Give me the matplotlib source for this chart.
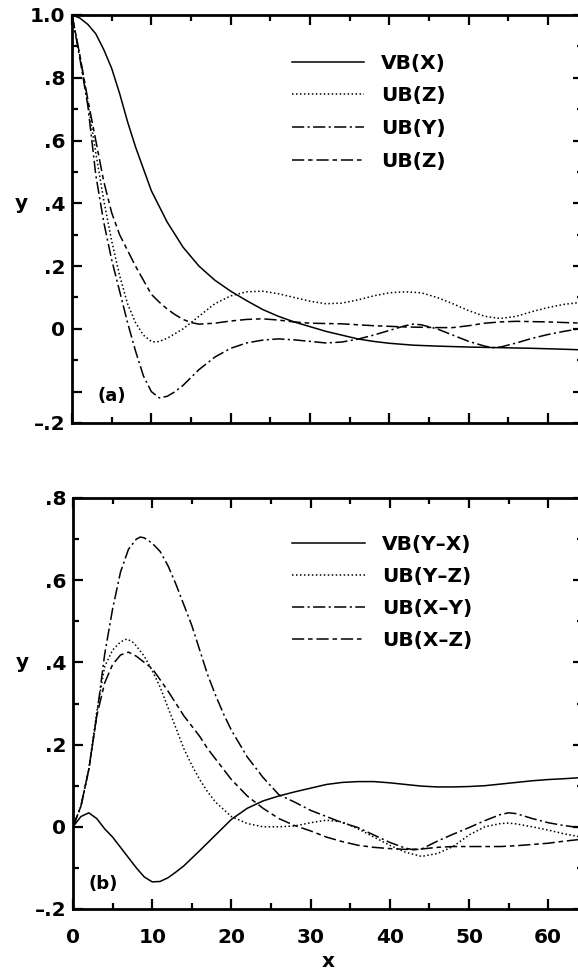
import numpy as np
import matplotlib
matplotlib.use("Agg")
import matplotlib.pyplot as plt
from matplotlib.ticker import MultipleLocator

plt.rcParams["font.family"] = ["DejaVu Sans"]
plt.rcParams["font.weight"] = "bold"

# ---------- panel (a) ----------
xa_vbx = [0, 1, 2, 3, 4, 5, 6, 7, 8, 9, 10, 11, 12, 13, 14, 15, 16, 18, 20, 22, 24, 26,
          28, 30, 32, 34, 36, 38, 40, 43, 46, 50, 54, 58, 62, 64.4]
ya_vbx = [1.0, 0.99, 0.97, 0.94, 0.89, 0.83, 0.75, 0.66, 0.58, 0.51, 0.44, 0.39, 0.34, 0.30,
          0.26, 0.23, 0.20, 0.155, 0.12, 0.09, 0.062, 0.04, 0.022, 0.007, -0.008, -0.02,
          -0.032, -0.04, -0.046, -0.052, -0.055, -0.058, -0.06, -0.062, -0.065, -0.067]

xa_ubz = [0, 1, 2, 3, 4, 5, 6, 7, 8, 9, 10, 10.5, 11, 12, 13, 14, 16, 18, 20, 22, 24, 26,
          28, 30, 32, 34, 36, 38, 40, 42, 44, 46, 48, 50, 52, 54, 56, 58, 60, 62, 64.4]
ya_ubz = [1.0, 0.87, 0.72, 0.56, 0.41, 0.28, 0.17, 0.08, 0.02, -0.02, -0.04, -0.042, -0.04,
          -0.03, -0.015, 0.0, 0.04, 0.08, 0.105, 0.118, 0.12, 0.112, 0.10, 0.088, 0.08, 0.082,
          0.092, 0.105, 0.115, 0.118, 0.115, 0.10, 0.08, 0.058, 0.04, 0.033, 0.04, 0.055,
          0.068, 0.078, 0.085]

xa_uby = [0, 1, 2, 3, 4, 5, 6, 7, 8, 9, 10, 11, 12, 13, 14, 16, 18, 20, 22, 24, 26, 28, 30,
          32, 34, 36, 38, 40, 42, 43, 44, 46, 48, 50, 52, 53, 54, 56, 58, 60, 62, 64.4]
ya_uby = [1.0, 0.86, 0.71, 0.49, 0.34, 0.22, 0.12, 0.02, -0.07, -0.15, -0.2, -0.22, -0.215,
          -0.2, -0.18, -0.13, -0.09, -0.062, -0.045, -0.036, -0.032, -0.035, -0.04, -0.045,
          -0.042, -0.033, -0.02, -0.005, 0.01, 0.015, 0.013, 0.0, -0.02, -0.04, -0.055, -0.06,
          -0.058, -0.045, -0.03, -0.018, -0.008, 0.002]

xa_ubz2 = [0, 1, 2, 3, 4, 5, 6, 7, 8, 9, 10, 11, 12, 13, 14, 15, 16, 18, 20, 22, 24, 26, 28,
           30, 34, 38, 42, 46, 48, 50, 52, 54, 56, 60, 64.4]
ya_ubz2 = [1.0, 0.87, 0.73, 0.60, 0.47, 0.37, 0.30, 0.25, 0.20, 0.155, 0.11, 0.085, 0.063,
           0.045, 0.03, 0.02, 0.015, 0.018, 0.025, 0.03, 0.032, 0.028, 0.022, 0.018, 0.016,
           0.01, 0.006, 0.004, 0.004, 0.01, 0.018, 0.022, 0.024, 0.022, 0.018]

labels_a = ["VB(X)", "UB(Z)", "UB(Y)", "UB(Z)"]

# ---------- panel (b) ----------
xb_vb = [0, 1, 2, 3, 4, 5, 6, 7, 8, 9, 10, 11, 12, 13, 14, 16, 18, 20, 22, 24, 26, 28, 30,
         32, 34, 36, 38, 40, 42, 44, 46, 48, 50, 52, 54, 56, 58, 60, 62, 64.4]
yb_vb = [0.0, 0.025, 0.034, 0.02, -0.005, -0.025, -0.05, -0.075, -0.1, -0.122, -0.134,
         -0.133, -0.124, -0.11, -0.095, -0.058, -0.02, 0.018, 0.045, 0.063, 0.075, 0.085,
         0.094, 0.103, 0.108, 0.11, 0.11, 0.107, 0.103, 0.099, 0.097, 0.097, 0.098, 0.10,
         0.104, 0.108, 0.112, 0.115, 0.117, 0.12]

xb_yz = [0, 1, 2, 3, 4, 5, 6, 6.8, 7.5, 8, 9, 10, 11, 12, 13, 14, 15, 16, 17, 18, 20, 22,
         24, 26, 28, 30, 32, 34, 36, 38, 40, 42, 44, 46, 48, 50, 52, 54, 55, 56, 58, 60, 62,
         64.4]
yb_yz = [0.0, 0.05, 0.14, 0.28, 0.39, 0.43, 0.45, 0.457, 0.45, 0.44, 0.415, 0.38, 0.34,
         0.29, 0.24, 0.19, 0.15, 0.115, 0.085, 0.06, 0.025, 0.008, 0.0, 0.0, 0.002, 0.01,
         0.016, 0.012, -0.005, -0.025, -0.045, -0.062, -0.072, -0.065, -0.048, -0.02, 0.0,
         0.008, 0.009, 0.007, 0.0, -0.008, -0.017, -0.026]

xb_xy = [0, 1, 2, 3, 4, 5, 6, 7, 8, 8.5, 9, 10, 11, 12, 13, 14, 15, 16, 17, 18, 19, 20, 22,
         24, 26, 28, 30, 32, 34, 36, 38, 40, 42, 43, 44, 46, 48, 50, 52, 54, 55, 56, 58, 60,
         62, 64.4]
yb_xy = [0.0, 0.05, 0.14, 0.27, 0.42, 0.53, 0.62, 0.675, 0.70, 0.705, 0.703, 0.69, 0.67,
         0.635, 0.59, 0.54, 0.49, 0.43, 0.37, 0.32, 0.275, 0.235, 0.17, 0.12, 0.078, 0.06,
         0.04, 0.025, 0.01, -0.002, -0.02, -0.038, -0.052, -0.056, -0.054, -0.035, -0.018,
         -0.002, 0.015, 0.03, 0.034, 0.032, 0.02, 0.01, 0.003, -0.003]

xb_xz = [0, 1, 2, 3, 4, 5, 6, 7, 8, 9, 10, 11, 12, 13, 14, 15, 16, 17, 18, 20, 22, 24, 26,
         28, 30, 32, 34, 36, 38, 40, 42, 44, 46, 48, 50, 52, 54, 56, 58, 60, 62, 64.4]
yb_xz = [0.0, 0.05, 0.14, 0.27, 0.35, 0.395, 0.418, 0.425, 0.415, 0.40, 0.385, 0.358, 0.33,
         0.30, 0.27, 0.245, 0.22, 0.19, 0.165, 0.115, 0.075, 0.045, 0.02, 0.003, -0.01,
         -0.025, -0.036, -0.045, -0.05, -0.053, -0.055, -0.054, -0.05, -0.048, -0.048,
         -0.048, -0.048, -0.046, -0.043, -0.04, -0.035, -0.03]

labels_b = ["VB(Y\u2013X)", "UB(Y\u2013Z)", "UB(X\u2013Y)", "UB(X\u2013Z)"]

# line styles: solid, dotted, dash-dot, long-short dash
STYLES = ["-", (0, (1, 1.6)), (0, (8, 2.2, 1.4, 2.2)), (0, (8, 2.5, 3, 2.5))]
LW = 1.1
FS = 14.5

W, H = 578, 975
fig = plt.figure(figsize=(W / 100, H / 100), dpi=100)

ax_a = fig.add_axes([72 / W, 1 - 423 / H, 511 / W, 408 / H])
ax_b = fig.add_axes([73 / W, 1 - 909 / H, 510 / W, 411 / H])

for (xs, ys), ls, lab in zip(
        [(xa_vbx, ya_vbx), (xa_ubz, ya_ubz), (xa_uby, ya_uby), (xa_ubz2, ya_ubz2)],
        STYLES, labels_a):
    ax_a.plot(xs, ys, color="black", lw=LW, linestyle=ls, label=lab)

for (xs, ys), ls, lab in zip(
        [(xb_vb, yb_vb), (xb_yz, yb_yz), (xb_xy, yb_xy), (xb_xz, yb_xz)],
        STYLES, labels_b):
    ax_b.plot(xs, ys, color="black", lw=LW, linestyle=ls, label=lab)

# axis limits; panel (a) labels its bottom edge "-.2" as in the original
ax_a.set_ylim(-0.3, 1.0)
ax_a.set_yticks([-0.3, -0.2, 0, 0.2, 0.4, 0.6, 0.8, 1.0])
ax_a.set_yticklabels(["\u2013.2", "", "0", ".2", ".4", ".6", ".8", "1.0"])
ax_b.set_ylim(-0.2, 0.8)
ax_b.set_yticks([-0.2, 0, 0.2, 0.4, 0.6, 0.8])
ax_b.set_yticklabels(["\u2013.2", "0", ".2", ".4", ".6", ".8"])

for ax in (ax_a, ax_b):
    ax.set_xlim(0, 64.4)
    ax.xaxis.set_major_locator(MultipleLocator(10))
    ax.xaxis.set_minor_locator(MultipleLocator(5))
    ax.yaxis.set_minor_locator(MultipleLocator(0.1))
    ax.tick_params(which="both", direction="in", top=True, right=True, width=1.6,
                   labelsize=FS)
    ax.tick_params(which="major", length=7.5)
    ax.tick_params(which="minor", length=4.5)
    ax.tick_params(axis="y", pad=5)
    ax.tick_params(axis="x", pad=14)
    for sp in ax.spines.values():
        sp.set_linewidth(2.0)
    for t in ax.get_xticklabels() + ax.get_yticklabels():
        t.set_fontweight("bold")
    ax.text(-0.10, 0.4, "y", transform=ax.get_yaxis_transform(), fontsize=FS,
            fontweight="bold", ha="center", va="center")

ax_a.tick_params(axis="x", labelbottom=False)
ax_b.set_xlabel("x", fontsize=FS, fontweight="bold", labelpad=3)

ax_a.text(0.049, 0.065, "(a)", transform=ax_a.transAxes, fontsize=13, fontweight="bold",
          va="center")
ax_b.text(0.03, 0.062, "(b)", transform=ax_b.transAxes, fontsize=13, fontweight="bold",
          va="center")

for ax, top, sp in ((ax_a, 0.905, 0.68), (ax_b, 0.91, 0.64)):
    leg = ax.legend(loc="upper left", bbox_to_anchor=(0.43, top), frameon=False,
                    fontsize=FS, handlelength=3.6, handletextpad=0.85,
                    labelspacing=sp, borderpad=0, borderaxespad=0)
    for t in leg.get_texts():
        t.set_fontweight("bold")

fig.savefig("out.png", dpi=100)
